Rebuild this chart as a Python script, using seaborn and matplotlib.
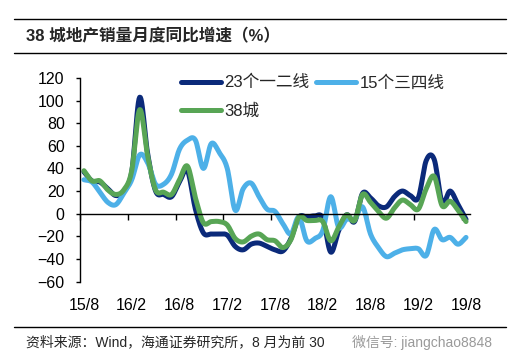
import numpy as np
import pandas as pd
import seaborn as sns
import matplotlib
matplotlib.use('Agg')
import matplotlib.pyplot as plt
from matplotlib.lines import Line2D

# 月度数据 2015/8 - 2019/8
months = pd.period_range('2015-08', '2019-08', freq='M').strftime('%y/%m').tolist()
tick_labels = ['15/8', '16/2', '16/8', '17/2', '17/8', '18/2', '18/8', '19/2', '19/8']

# 23个一二线
tier12 = [37, 29, 28, 22, 16, 20, 37, 103, 53, 20,
          17, 15, 28, 38, 4, -17, -18, -18, -19, -29,
          -32, -27, -26, -29, -32, -33, -22, -3, -3, -2,
          -4, -34, -15, -1, -7, 18, 14, 7, 6, 15,
          20, 16, 14, 47, 48, 10, 20, 8, -5]
# 15个三四线
tier34 = [30, 28, 19, 10, 8, 18, 30, 52, 45, 26,
          26, 35, 57, 65, 65, 40, 62, 54, 40, 3,
          22, 27, 15, 4, 2, -9, -18, -3, -24, -22,
          -15, 15, -12, -5, -5, 6, -18, -30, -38, -35,
          -32, -31, -31, -37, -14, -23, -21, -27, -21]
# 38城
city38 = [38, 29, 29, 21, 17, 21, 38, 92, 51, 21,
          19, 17, 30, 42, 14, -8, -7, -7, -10, -22,
          -25, -20, -18, -23, -24, -30, -23, -3, -6, -6,
          -7, -24, -12, -1, -6, 17, 10, 2, -4, 5,
          12, 8, 4, 22, 33, 7, 11, 3, -7]

c_dark = '#0B2A7A'
c_light = '#4DB0E8'
c_green = '#58A555'


def smooth(vals, n=12):
    # 平滑曲线（类似Excel平滑线）
    y = np.asarray(vals, float)
    m = np.gradient(y)
    t = np.linspace(0, 1, n, endpoint=False)
    h00 = 2 * t**3 - 3 * t**2 + 1
    h10 = t**3 - 2 * t**2 + t
    h01 = -2 * t**3 + 3 * t**2
    h11 = t**3 - t**2
    xs, ys = [], []
    for k in range(len(y) - 1):
        xs.append(k + t)
        ys.append(h00 * y[k] + h10 * m[k] + h01 * y[k + 1] + h11 * m[k + 1])
    xs.append([len(y) - 1])
    ys.append([y[-1]])
    return np.concatenate(xs), np.concatenate(ys)


sns.set_style('ticks')
plt.rcParams['font.family'] = ['Liberation Sans', 'Noto Sans CJK SC', 'DejaVu Sans']

fig = plt.figure(figsize=(5.2, 3.64), dpi=100)
ax = fig.add_axes([80 / 520, 1 - 281.5 / 364, 390 / 520, 203.5 / 364])

series = [('23个一二线', tier12, c_dark), ('15个三四线', tier34, c_light), ('38城', city38, c_green)]
handles = {}
for name, vals, col in series:
    xs, ys = smooth(vals)
    df = pd.DataFrame({'x': xs, 'y': ys})
    sns.lineplot(data=df, x='x', y='y', ax=ax, color=col, lw=3.6, sort=False,
                 estimator=None, solid_capstyle='round', solid_joinstyle='round')
    handles[name] = Line2D([], [], color=col, lw=3.6)

ax.set_xlim(-0.5, len(months) - 0.5)
ax.set_ylim(-60, 120)
ax.set_yticks(range(-60, 121, 20))
ax.set_xlabel('')
ax.set_ylabel('')

for s in ['top', 'right']:
    ax.spines[s].set_visible(False)
ax.spines['bottom'].set_position(('data', 0))
for s in ['left', 'bottom']:
    ax.spines[s].set_color('black')
    ax.spines[s].set_linewidth(1)

ax.set_xticks([i - 0.5 for i in range(0, len(months), 6)])
ax.tick_params(axis='x', direction='out', length=4, width=1, color='black', labelbottom=False)
ax.tick_params(axis='y', direction='out', length=3, width=1, color='black',
               labelsize=11.5, labelcolor='black', pad=8)

sec = ax.secondary_xaxis('bottom')
sec.set_xticks(list(range(0, len(months), 6)), tick_labels)
sec.tick_params(length=0, labelsize=11.5, labelcolor='black', pad=12)
sec.spines['bottom'].set_visible(False)

leg_order = ['23个一二线', '38城', '15个三四线']
ax.legend([handles[k] for k in leg_order], leg_order, ncol=2, frameon=False,
          loc='upper left', bbox_to_anchor=(181 / 520, 1 - 75 / 364),
          bbox_transform=fig.transFigure, borderpad=0, borderaxespad=0,
          handlelength=2.4, handletextpad=0.2, columnspacing=0.4,
          labelspacing=0.8, fontsize=12)

# 标题和分隔线
for yy in [19, 53, 327]:
    fig.add_artist(Line2D([14 / 520, 506 / 520], [1 - yy / 364, 1 - yy / 364],
                          transform=fig.transFigure, color='black', lw=1))
fig.text(26 / 520, 1 - 36 / 364, '38 城地产销量月度同比增速（%）', fontsize=12,
         fontweight='bold', va='center', ha='left')
fig.text(26 / 520, 1 - 342 / 364, '资料来源：Wind，海通证券研究所，8 月为前 30', fontsize=10,
         va='center', ha='left')
fig.text(352 / 520, 1 - 342 / 364, '微信号: jiangchao8848', fontsize=10,
         va='center', ha='left', color='#9a9a9a')

plt.savefig('out.png', dpi=100)
